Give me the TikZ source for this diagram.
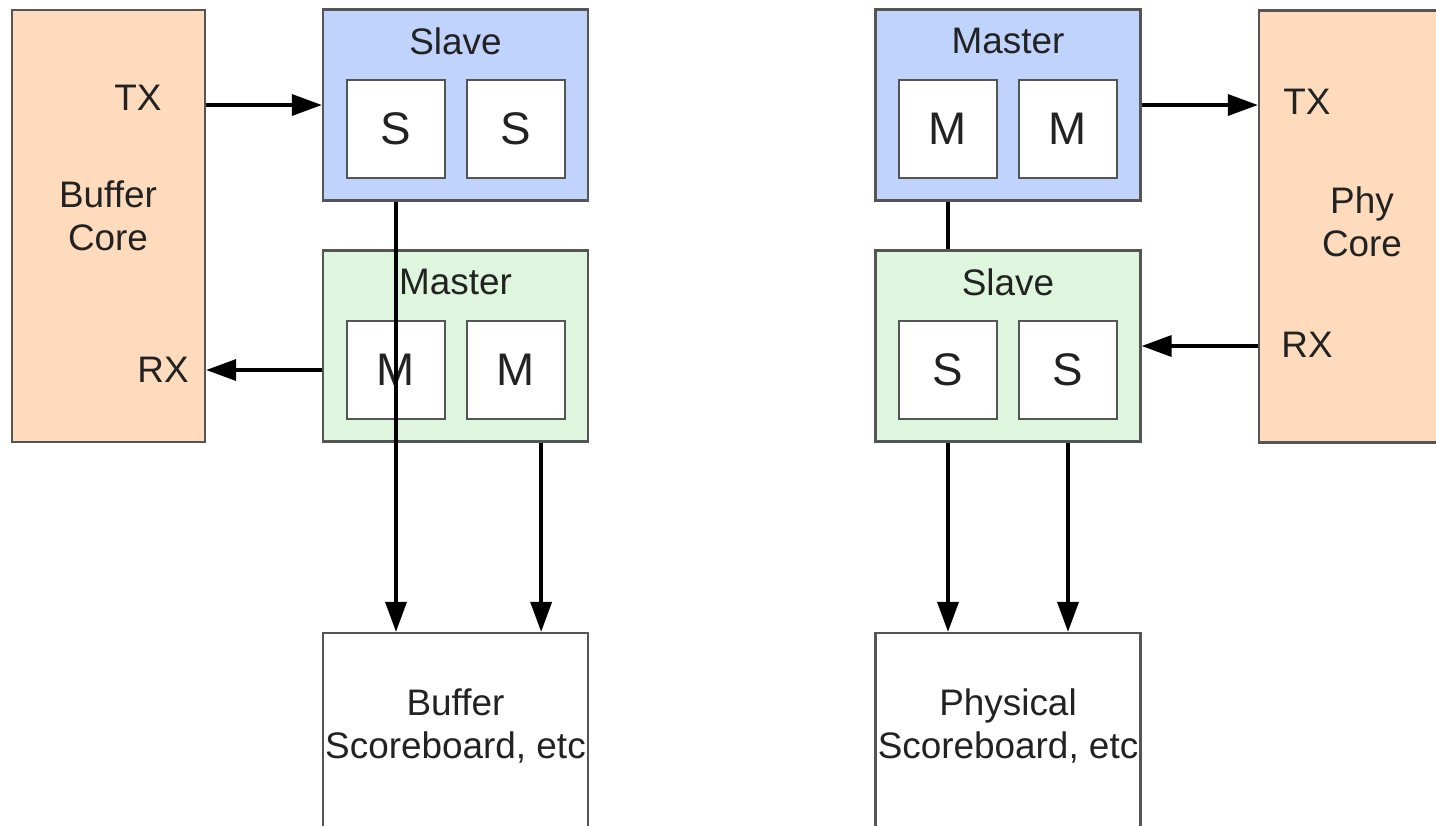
\documentclass[tikz,border=0pt]{standalone}
\usepackage{fontspec}
\setmainfont{Liberation Sans}
\usetikzlibrary{arrows.meta,positioning}
\definecolor{coreorange}{HTML}{FDDBBC}
\definecolor{slaveblue}{HTML}{C0D3FC}
\definecolor{mastergreen}{HTML}{DEF5DE}
\definecolor{edgegray}{HTML}{555555}
\definecolor{textgray}{HTML}{222222}
\begin{document}
\begin{tikzpicture}[
  block/.style={rectangle, draw=edgegray, line width=1.3pt, minimum width=5.3cm, minimum height=3.82cm, inner sep=0pt},
  core/.style={block, fill=coreorange, minimum height=8.64cm},
  inbox/.style={rectangle, draw=edgegray, line width=1.3pt, fill=white, minimum size=1.96cm, inner sep=0pt, font=\fontsize{26}{30}\selectfont},
  lbl/.style={text=textgray, font=\fontsize{21}{24.4}\selectfont, align=center, inner sep=0pt},
  arr/.style={-{Triangle[length=0.6cm,width=0.42cm]}, line width=2pt},
  node distance=2.4cm,
  text=textgray
]
\useasboundingbox (0,0) rectangle (28.72,-16.5);
\clip (0,0) rectangle (28.72,-16.5);

% buffer side
\node[block, fill=slaveblue] (lslave) at (9.11,-2.10) {};
\node[block, fill=mastergreen, below of=lslave, node distance=4.82cm] (lmaster) {};
\node[block, minimum height=4cm, below of=lmaster, node distance=7.74cm] (bufsb) {};
\node[core, minimum width=3.86cm] (bufcore) at (2.17,-4.52) {};

\node[inbox] (ls1) at (7.92,-2.58) {S};
\node[inbox, right of=ls1] (ls2) {S};
\node[inbox] (lm1) at (7.92,-7.40) {M};
\node[inbox, right of=lm1] (lm2) {M};

\node[lbl] (lslavet) at ([yshift=-0.66cm]lslave.north) {Slave};
\node[lbl] (lmastert) at ([yshift=-0.66cm]lmaster.north) {Master};
\node[lbl] (bufsbt) at ([yshift=-1.88cm]bufsb.north) {Buffer\\Scoreboard, etc};
\node[lbl] (buftx) at (2.76,-1.96) {TX};
\node[lbl] (bufname) at (2.16,-4.32) {Buffer\\Core};
\node[lbl] (bufrx) at (3.26,-7.40) {RX};

% phy side
\node[block, fill=slaveblue, right of=lslave, node distance=11.05cm] (rmaster) {};
\node[block, fill=mastergreen, below of=rmaster, node distance=4.82cm] (rslave) {};
\node[block, minimum height=4cm, below of=rslave, node distance=7.74cm] (physb) {};
\node[core, minimum width=4.12cm] (phycore) at (27.24,-4.53) {};

\node[inbox] (rm1) at (18.96,-2.58) {M};
\node[inbox, right of=rm1] (rm2) {M};
\node[inbox] (rs1) at (18.96,-7.40) {S};
\node[inbox, right of=rs1] (rs2) {S};

\node[lbl] (rmastert) at ([yshift=-0.66cm]rmaster.north) {Master};
\node[lbl] (rslavet) at ([yshift=-0.66cm]rslave.north) {Slave};
\node[lbl] (physbt) at ([yshift=-1.88cm]physb.north) {Physical\\Scoreboard, etc};
\node[lbl] (phytx) at (26.14,-2.04) {TX};
\node[lbl] (phyname) at (27.24,-4.44) {Phy\\Core};
\node[lbl] (phyrx) at (26.14,-6.90) {RX};

% connectors
\draw[arr] (bufcore.east |- lslave.west) -- (lslave.west);
\draw[arr] (lmaster.west |- lm1) -- (bufcore.east |- lm1);
\draw[arr] (ls1 |- lslave.south) -- (ls1 |- bufsb.north);
\draw[arr] ([xshift=-0.96cm]lmaster.south east) -- ([xshift=-0.96cm]bufsb.north east);

\draw[arr] (rmaster.east) -- (phycore.west |- rmaster.east);
\draw[arr] (phycore.west |- rslave.east) -- (rslave.east);
\draw[line width=2pt] (rm1 |- rmaster.south) -- (rm1 |- rslave.north);
\draw[arr] (rs1 |- rslave.south) -- (rs1 |- physb.north);
\draw[arr] (rs2 |- rslave.south) -- (rs2 |- physb.north);
\end{tikzpicture}
\end{document}
